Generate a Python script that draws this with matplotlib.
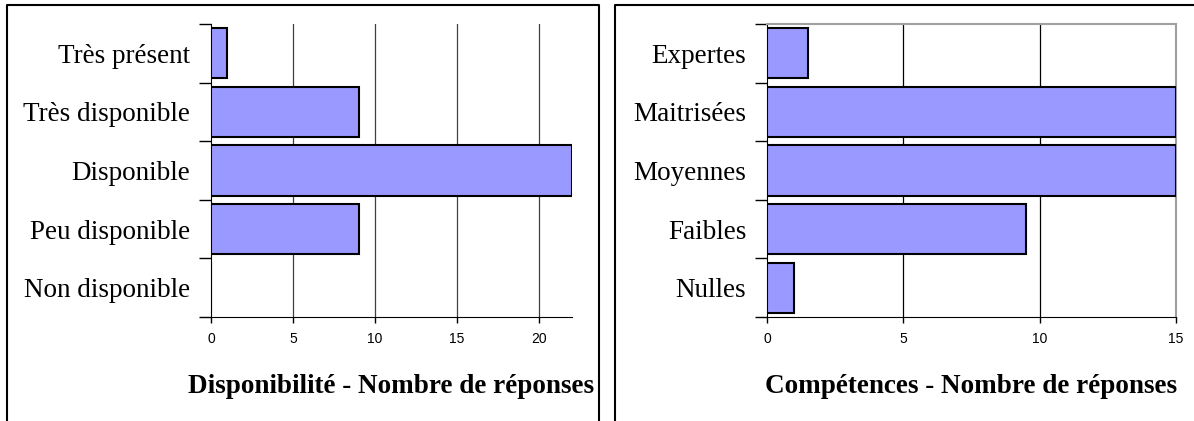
import matplotlib
matplotlib.use("Agg")
import matplotlib.pyplot as plt
from matplotlib import font_manager
from matplotlib.lines import Line2D

dispo_labels = ["Très présent", "Très disponible", "Disponible", "Peu disponible", "Non disponible"]
dispo_values = [1, 9, 22, 9, 0]

comp_labels = ["Expertes", "Maitrisées", "Moyennes", "Faibles", "Nulles"]
comp_values = [1.5, 15, 15, 9.5, 1]

names = {f.name for f in font_manager.fontManager.ttflist}
tick_font = "Liberation Sans Narrow" if "Liberation Sans Narrow" in names else "Liberation Sans"

W, H = 1194, 421
fig = plt.figure(figsize=(W / 100, H / 100), dpi=100)

def px_axes(x0, x1, y0, y1):
    return fig.add_axes([x0 / W, 1 - y1 / H, (x1 - x0) / W, (y1 - y0) / H])

def draw_panel(ax, labels, values, xmax, xticks, title, grid_color, frame):
    ypos = list(range(len(labels)))
    ax.barh(ypos, values, height=0.86, color="#9999ff", edgecolor="black", linewidth=1.5, zorder=3)
    ax.set_xlim(0, xmax)
    ax.set_ylim(len(labels) - 0.5, -0.5)
    ax.set_xticks(xticks)
    ax.set_xticklabels([str(t) for t in xticks], fontfamily=tick_font, fontsize=10)
    ax.set_yticks(ypos)
    ax.set_yticklabels(labels, fontfamily="Liberation Serif", fontsize=19.5)
    ax.set_yticks([y - 0.5 for y in range(len(labels) + 1)], minor=True)
    ax.tick_params(axis="y", which="major", length=0, pad=15)
    ax.tick_params(axis="y", which="minor", length=9, width=1, color="black")
    ax.tick_params(axis="x", length=4, width=1, pad=7)
    for t in xticks[1:]:
        ax.axvline(t, color=grid_color, linewidth=0.9, zorder=1)
    ax.spines["left"].set_color("black")
    ax.spines["bottom"].set_color("black")
    if frame:
        ax.spines["top"].set_color("#a0a0a0")
        ax.spines["right"].set_color("#a0a0a0")
        ax.spines["top"].set_linewidth(1.5)
        ax.spines["right"].set_linewidth(1.5)
    else:
        ax.spines["top"].set_visible(False)
        ax.spines["right"].set_visible(False)
    ax.set_xlabel(title, fontfamily="Liberation Serif", fontweight="bold", fontsize=19.5, labelpad=20)

ax1 = px_axes(211, 572, 24, 317)
draw_panel(ax1, dispo_labels, dispo_values, 22, [0, 5, 10, 15, 20],
           "Disponibilité - Nombre de réponses", "#404040", False)

ax2 = px_axes(767, 1176, 24, 317)
draw_panel(ax2, comp_labels, comp_values, 15, [0, 5, 10, 15],
           "Compétences - Nombre de réponses", "black", True)

# panel borders
def border(xs, ys):
    fig.add_artist(Line2D([x / W for x in xs], [1 - y / H for y in ys],
                          transform=fig.transFigure, color="black", linewidth=1.5))

border([7, 7, 599, 599], [H, 5, 5, H])
border([615, 615, W + 5], [H, 5, 5])

fig.savefig("out.png", dpi=100)
